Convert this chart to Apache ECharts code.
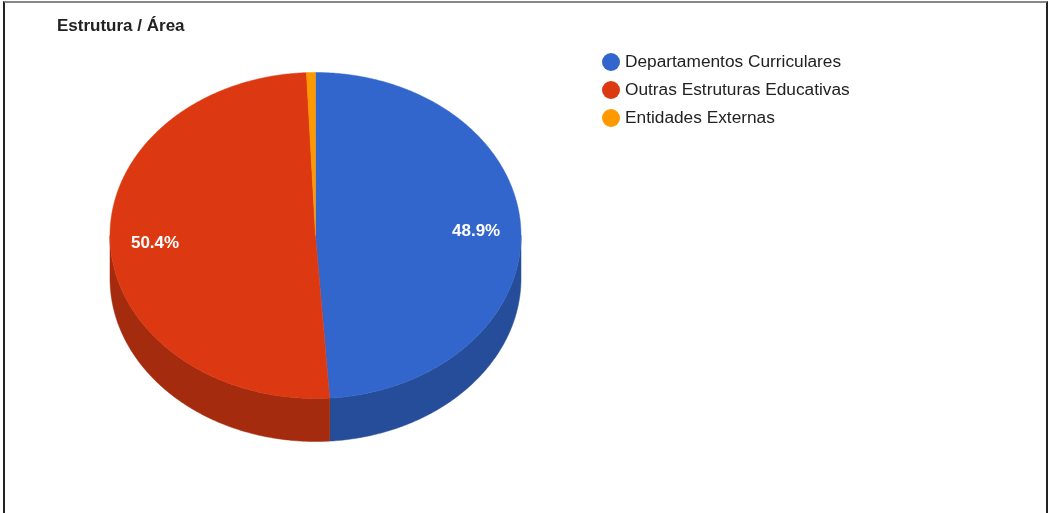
<!DOCTYPE html>
<html><head><meta charset="utf-8">
<script src="https://cdn.jsdelivr.net/npm/echarts/dist/echarts.min.js"></script>
<style>
html,body{margin:0;padding:0;background:#fff;overflow:hidden}
#c{width:1050px;height:513px}
#frame{position:absolute;left:3px;top:1px;width:1041px;height:600px;border-left:2px solid #222;border-right:2px solid #222;border-top:2px solid #888;pointer-events:none}
</style>
</head><body><div id="c"></div><div id="frame"></div>
<script>
const titleText = 'Estrutura / Área';
const categories = ['Departamentos Curriculares', 'Outras Estruturas Educativas', 'Entidades Externas'];
const values = [48.9, 50.4, 0.7];
const colors = ['#3366cc', '#dc3912', '#ff9900'];
const sideColors = ['#264d99', '#a52b0e', '#bf7300'];

const CX = 315.5, CY = 235.5, RX = 205.5, RY = 163, DEPTH = 43, LABEL_K = 0.782;
const FONT = '"Liberation Sans", Arial, sans-serif';

function pt(deg, dy) {
  const r = deg * Math.PI / 180;
  return [CX + RX * Math.sin(r), CY - RY * Math.cos(r) + (dy || 0)];
}
function arc(a, b, dy) {
  const pts = [];
  const n = Math.max(2, Math.ceil((b - a) / 0.5));
  for (let i = 0; i <= n; i++) pts.push(pt(a + (b - a) * i / n, dy));
  return pts;
}

function makeRenderer(idx) {
  return function (params, api) {
    const total = values.reduce((s, v) => s + v, 0);
    let start = 0;
    for (let i = 0; i < idx; i++) start += values[i];
    const v = api.value(0);
    const a = start / total * 360, b = (start + v) / total * 360;
    const children = [];
    const s = Math.max(a, 90), e = Math.min(b, 270);
    if (s < e) {
      const top = arc(s, e, 0);
      const bot = arc(s, e, DEPTH).reverse();
      children.push({
        type: 'polygon', z2: 1,
        shape: { points: top.concat(bot) },
        style: { fill: sideColors[idx], stroke: sideColors[idx], lineWidth: 0.5 }
      });
    }
    children.push({
      type: 'polygon', z2: 10,
      shape: { points: [[CX, CY]].concat(arc(a, b, 0)) },
      style: { fill: colors[idx], stroke: colors[idx], lineWidth: 0.5 }
    });
    const pct = v / total * 100;
    if (pct >= 5) {
      const m = (a + b) / 2 * Math.PI / 180;
      children.push({
        type: 'text', z2: 20,
        x: CX + RX * LABEL_K * Math.sin(m),
        y: CY - RY * LABEL_K * Math.cos(m) + 0.5,
        style: {
          text: pct.toFixed(1) + '%', fill: '#ffffff',
          font: 'bold 17px ' + FONT, align: 'center', verticalAlign: 'middle'
        }
      });
    }
    return { type: 'group', children: children };
  };
}

const chart = echarts.init(document.getElementById('c'), null, { renderer: 'canvas' });
chart.setOption({
  backgroundColor: '#ffffff',
  animation: false,
  title: {
    text: titleText, left: 57, top: 18, padding: 0,
    textStyle: { fontFamily: FONT, fontSize: 17, fontWeight: 'bold', color: '#222222' }
  },
  legend: {
    orient: 'vertical', left: 602, top: 53, padding: 0,
    icon: 'circle', itemWidth: 18, itemHeight: 18, itemGap: 10,
    selectedMode: false,
    data: categories,
    textStyle: { fontFamily: FONT, fontSize: 17.3, color: '#222222' }
  },
  series: categories.map((name, i) => ({
    type: 'custom', name: name, coordinateSystem: 'none', silent: true,
    itemStyle: { color: colors[i] },
    renderItem: makeRenderer(i),
    data: [values[i]]
  }))
});
</script>
</body></html>
